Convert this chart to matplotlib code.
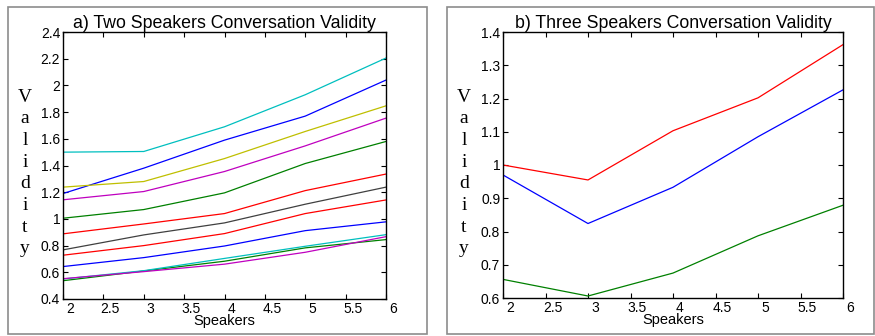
import matplotlib.pyplot as plt
import matplotlib.transforms as mtransforms
from matplotlib.patches import Rectangle

# ===== Data =====
speakers = [2, 3, 4, 5, 6]

# two speakers: one curve per run, MATLAB colour order b g r c m y k b g r c m
two_blue_1 = [1.19, 1.38, 1.59, 1.77, 2.04]
two_green_1 = [1.005, 1.07, 1.195, 1.415, 1.58]
two_red_1 = [0.888, 0.962, 1.040, 1.212, 1.336]
two_cyan_1 = [1.50, 1.505, 1.69, 1.93, 2.205]
two_magenta_1 = [1.143, 1.205, 1.355, 1.547, 1.755]
two_yellow = [1.238, 1.28, 1.452, 1.655, 1.847]
two_gray = [0.768, 0.88, 0.970, 1.110, 1.238]
two_blue_2 = [0.643, 0.71, 0.797, 0.912, 0.978]
two_green_2 = [0.537, 0.61, 0.683, 0.783, 0.845]
two_red_2 = [0.728, 0.80, 0.890, 1.040, 1.142]
two_cyan_2 = [0.550, 0.612, 0.704, 0.795, 0.882]
two_magenta_2 = [0.552, 0.605, 0.661, 0.750, 0.867]

# three speakers
three_blue = [0.970, 0.824, 0.933, 1.085, 1.226]
three_green = [0.656, 0.606, 0.675, 0.787, 0.879]
three_red = [1.000, 0.955, 1.103, 1.202, 1.362]

x_ticks = [2, 2.5, 3, 3.5, 4, 4.5, 5, 5.5, 6]
two_y_ticks = [0.4, 0.6, 0.8, 1, 1.2, 1.4, 1.6, 1.8, 2, 2.2, 2.4]
three_y_ticks = [0.6, 0.7, 0.8, 0.9, 1, 1.1, 1.2, 1.3, 1.4]

# MATLAB style colours
C_B = (0, 0, 1)
C_G = (0, 0.5, 0)
C_R = (1, 0, 0)
C_C = (0, 0.75, 0.75)
C_M = (0.75, 0, 0.75)
C_Y = (0.75, 0.75, 0)
C_K = (0.25, 0.25, 0.25)

plt.rcParams['font.family'] = ['Liberation Sans', 'DejaVu Sans']

W, H = 875, 336
fig = plt.figure(figsize=(W / 100, H / 100), dpi=100)


def px_axes(left, top, right, bottom):
    return fig.add_axes([left / W, 1 - bottom / H, (right - left) / W, (bottom - top) / H])


# grey panel frames
for l, t, r, b in [(8, 7, 427, 334), (447, 7, 874, 334)]:
    fig.patches.append(Rectangle((l / W, 1 - b / H), (r - l) / W, (b - t) / H,
                                 transform=fig.transFigure, fill=False,
                                 edgecolor='#8c8c8c', linewidth=1.2))


def style_axes(ax, yticks, title, ylab_x):
    ax.set_xlim(2, 6)
    ax.set_ylim(yticks[0], yticks[-1])
    ax.set_xticks(x_ticks)
    ax.set_xticklabels([f'{v:g}' for v in x_ticks])
    ax.set_yticks(yticks)
    ax.set_yticklabels([f'{v:g}' for v in yticks])
    ax.tick_params(direction='in', top=True, right=True, length=3.5, width=0.8,
                   labelsize=10, pad=2)
    for s in ax.spines.values():
        s.set_linewidth(1.0)
    ax.set_title(title, fontsize=12.8, pad=3)
    ax.set_xlabel('Speakers', fontsize=10.5, labelpad=-1)
    # MATLAB places x tick labels a little to the right of the ticks
    offset = mtransforms.ScaledTranslation(7 / 100, 0, fig.dpi_scale_trans)
    for lab in ax.get_xticklabels():
        lab.set_transform(lab.get_transform() + offset)
    # stacked serif y label
    for i, ch in enumerate('Validity'):
        fig.text(ylab_x / W, 1 - (97 + i * 21.7) / H, ch, ha='center', va='center',
                 fontsize=14, family=['Liberation Serif', 'DejaVu Serif'])


ax1 = px_axes(63, 32, 386, 299)
for ys, c in [(two_blue_1, C_B), (two_green_1, C_G), (two_red_1, C_R),
              (two_cyan_1, C_C), (two_magenta_1, C_M), (two_yellow, C_Y),
              (two_gray, C_K), (two_blue_2, C_B), (two_green_2, C_G),
              (two_red_2, C_R), (two_cyan_2, C_C), (two_magenta_2, C_M)]:
    ax1.plot(speakers, ys, color=c, linewidth=0.9)
style_axes(ax1, two_y_ticks, 'a) Two Speakers Conversation Validity', 25)

ax2 = px_axes(503, 32, 843, 298)
for ys, c in [(three_blue, C_B), (three_green, C_G), (three_red, C_R)]:
    ax2.plot(speakers, ys, color=c, linewidth=0.9)
style_axes(ax2, three_y_ticks, 'b) Three Speakers Conversation Validity', 464)

fig.savefig('out.png', dpi=100)
